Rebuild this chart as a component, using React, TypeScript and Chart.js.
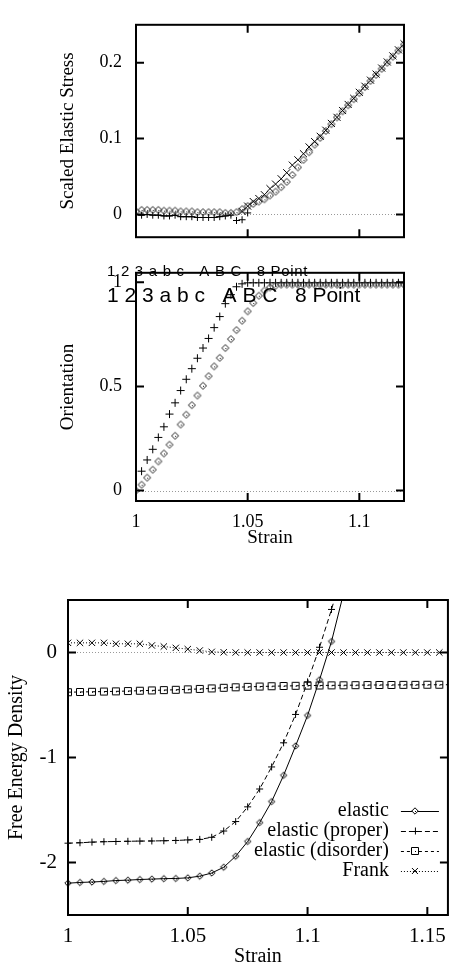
import React, { useEffect, useRef } from "react";
import { Chart, registerables } from "chart.js";
Chart.register(...registerables);

const SERIF = "'Liberation Serif','Times New Roman',serif";
const SANS = "'Liberation Sans',Arial,sans-serif";

// ---------------- data: top + middle panels (strain step 0.0025) ----------------
const strainFine = [
  1.0, 1.0025, 1.005, 1.0075, 1.01, 1.0125, 1.015, 1.0175, 1.02, 1.0225,
  1.025, 1.0275, 1.03, 1.0325, 1.035, 1.0375, 1.04, 1.0425, 1.045, 1.0475,
  1.05, 1.0525, 1.055, 1.0575, 1.06, 1.0625, 1.065, 1.0675, 1.07, 1.0725,
  1.075, 1.0775, 1.08, 1.0825, 1.085, 1.0875, 1.09, 1.0925, 1.095, 1.0975,
  1.1, 1.1025, 1.105, 1.1075, 1.11, 1.1125, 1.115, 1.1175, 1.12,
];

const stressDiamond = [
  0.004, 0.006, 0.006, 0.006, 0.006, 0.005, 0.005, 0.005, 0.004, 0.004,
  0.004, 0.003, 0.003, 0.003, 0.003, 0.003, 0.002, 0.002, 0.003, 0.007,
  0.011, 0.014, 0.017, 0.02, 0.025, 0.03, 0.036, 0.043, 0.052, 0.062,
  0.072, 0.082, 0.092, 0.101, 0.11, 0.119, 0.128, 0.136, 0.144, 0.152,
  0.16, 0.168, 0.176, 0.184, 0.192, 0.2, 0.208, 0.216, 0.224,
];

const stressCross: (number | null)[] = [
  null, null, null, null, null, null, null, null, null, null,
  null, null, null, null, null, null, null, null, null, 0.004,
  0.011, 0.017, 0.021, 0.026, 0.034, 0.04, 0.047, 0.055, 0.065, 0.072,
  0.08, 0.089, 0.096, 0.103, 0.111, 0.12, 0.128, 0.137, 0.145, 0.153,
  0.161, 0.169, 0.177, 0.185, 0.193, 0.201, 0.209, 0.217, 0.225,
];

const stressPlus: (number | null)[] = [
  0.0, -0.001, 0.0, -0.001, -0.001, -0.002, -0.002, -0.001, -0.003, -0.003,
  -0.003, -0.004, -0.004, -0.004, -0.004, -0.003, -0.002, -0.001, -0.008, -0.007,
  0.002,
];

const orientPlus = [
  0.0, 0.093, 0.147, 0.198, 0.255, 0.306, 0.367, 0.421, 0.48, 0.534,
  0.585, 0.635, 0.684, 0.73, 0.782, 0.835, 0.897, 0.94, 0.978, 0.992,
  0.997, 0.997, 0.997, 0.997, 0.997, 0.997, 0.997, 0.997, 0.997, 0.997,
  0.997, 0.997, 0.997, 0.997, 0.997, 0.997, 0.997, 0.997, 0.997, 0.997,
  0.997, 0.997, 0.997, 0.997, 0.997, 0.997, 0.997, 0.997, 0.997,
];

const orientDiamond = [
  0.0, 0.028, 0.062, 0.1, 0.14, 0.178, 0.22, 0.263, 0.317, 0.364,
  0.41, 0.456, 0.503, 0.549, 0.596, 0.637, 0.684, 0.727, 0.77, 0.815,
  0.86, 0.9, 0.935, 0.96, 0.975, 0.983, 0.988, 0.988, 0.988, 0.988,
  0.988, 0.988, 0.988, 0.988, 0.988, 0.988, 0.988, 0.988, 0.988, 0.988,
  0.988, 0.988, 0.988, 0.988, 0.988, 0.988, 0.988, 0.988, 0.988,
];

const fineXTicks = [1, 1.05, 1.1];
const stressYTicks = [0, 0.1, 0.2];
const orientYTicks = [0, 0.5, 1];
const fontTestText = "1 2 3 a b c   A B C   8 Point";

// ---------------- data: bottom panel (strain step 0.005) ----------------
const strainCoarse = [
  1.0, 1.005, 1.01, 1.015, 1.02, 1.025, 1.03, 1.035, 1.04, 1.045,
  1.05, 1.055, 1.06, 1.065, 1.07, 1.075, 1.08, 1.085, 1.09, 1.095,
  1.1, 1.105, 1.11, 1.115, 1.12, 1.125, 1.13, 1.135, 1.14, 1.145,
  1.15, 1.155, 1.16,
];

const energyElastic: (number | null)[] = [
  -2.197, -2.19, -2.186, -2.18, -2.172, -2.168, -2.162, -2.158, -2.154, -2.152,
  -2.146, -2.13, -2.1, -2.045, -1.94, -1.8, -1.62, -1.42, -1.17, -0.89,
  -0.6, -0.26, 0.105, 0.56,
];

const energyProper: (number | null)[] = [
  -1.816, -1.812, -1.806, -1.802, -1.8, -1.798, -1.796, -1.795, -1.793, -1.79,
  -1.785, -1.78, -1.76, -1.7, -1.61, -1.47, -1.3, -1.09, -0.86, -0.59,
  -0.28, 0.05, 0.41, 0.8,
];

const energyDisorder = [
  -0.378, -0.376, -0.374, -0.372, -0.37, -0.367, -0.364, -0.361, -0.358, -0.355,
  -0.351, -0.347, -0.342, -0.336, -0.331, -0.327, -0.324, -0.321, -0.319, -0.317,
  -0.315, -0.314, -0.313, -0.312, -0.311, -0.31, -0.309, -0.309, -0.308, -0.308,
  -0.307, -0.307, -0.307,
];

const energyFrank = [
  0.092, 0.092, 0.092, 0.092, 0.083, 0.083, 0.083, 0.067, 0.057, 0.044,
  0.032, 0.019, 0.006, 0.002, 0.0, 0.0, 0.0, 0.0, 0.0, 0.0,
  0.0, 0.0, 0.0, 0.0, 0.0, 0.0, 0.0, 0.0, 0.0, 0.0,
  0.0, 0.0, 0.0,
];

const energyLegend = ["elastic", "elastic (proper)", "elastic (disorder)", "Frank"];
const coarseXTicks = [1, 1.05, 1.1, 1.15];
const energyYTicks = [-2, -1, 0];

// ---------------- helpers ----------------
type Pt = { x: number; y: number };
const pts = (xs: number[], ys: (number | null)[]): Pt[] =>
  xs
    .map((x, i) => ({ x, y: ys[i] as number }))
    .filter((p) => p.y !== null && p.y !== undefined);

const setTicks = (values: number[]) => (scale: any) => {
  scale.ticks = values.map((v) => ({ value: v }));
};

function makeMarker(kind: "diamond" | "square", r: number, color: string) {
  const s = Math.ceil(2 * r + 3);
  const c = document.createElement("canvas");
  c.width = s;
  c.height = s;
  const g = c.getContext("2d")!;
  const m = s / 2;
  g.strokeStyle = color;
  g.lineWidth = 1;
  g.beginPath();
  if (kind === "diamond") {
    g.moveTo(m, m - r);
    g.lineTo(m + r, m);
    g.lineTo(m, m + r);
    g.lineTo(m - r, m);
    g.closePath();
  } else {
    g.rect(m - r, m - r, 2 * r, 2 * r);
  }
  g.stroke();
  g.fillStyle = color;
  g.fillRect(Math.floor(m), Math.floor(m), 1, 1);
  return c;
}

function framePlugin(xt: number[], yt: number[]) {
  return {
    id: "frame",
    afterDatasetsDraw(chart: any) {
      const { ctx, chartArea: a, scales } = chart;
      const L = 8;
      ctx.save();
      ctx.strokeStyle = "#000";
      ctx.lineWidth = 2;
      ctx.setLineDash([]);
      ctx.strokeRect(a.left, a.top, a.right - a.left, a.bottom - a.top);
      ctx.beginPath();
      xt.forEach((v) => {
        const px = scales.x.getPixelForValue(v);
        ctx.moveTo(px, a.bottom);
        ctx.lineTo(px, a.bottom - L);
        ctx.moveTo(px, a.top);
        ctx.lineTo(px, a.top + L);
      });
      yt.forEach((v) => {
        const py = scales.y.getPixelForValue(v);
        ctx.moveTo(a.left, py);
        ctx.lineTo(a.left + L, py);
        ctx.moveTo(a.right, py);
        ctx.lineTo(a.right - L, py);
      });
      ctx.stroke();
      ctx.restore();
    },
  };
}

const zeroLinePlugin = {
  id: "zeroLine",
  beforeDatasetsDraw(chart: any) {
    const { ctx, chartArea: a, scales } = chart;
    const py = Math.round(scales.y.getPixelForValue(0)) + 0.5;
    ctx.save();
    ctx.strokeStyle = "#999";
    ctx.lineWidth = 1;
    ctx.setLineDash([1, 2]);
    ctx.beginPath();
    ctx.moveTo(a.left, py);
    ctx.lineTo(a.right, py);
    ctx.stroke();
    ctx.restore();
  },
};

const fontTestPlugin = {
  id: "fontTest",
  afterDraw(chart: any) {
    const { ctx, chartArea: a } = chart;
    ctx.save();
    ctx.fillStyle = "#000";
    ctx.textAlign = "left";
    ctx.textBaseline = "middle";
    ctx.font = `15px ${SANS}`;
    (ctx as any).letterSpacing = "0.7px";
    ctx.fillText(fontTestText, a.left - 29, a.top - 1);
    ctx.font = `21px ${SANS}`;
    (ctx as any).letterSpacing = "0px";
    ctx.fillText(fontTestText, a.left - 29, a.top + 23.5);
    ctx.restore();
  },
};

function legendPlugin(items: { label: string; dash: number[]; marker: string; img?: HTMLCanvasElement }[]) {
  return {
    id: "energyLegend",
    afterDraw(chart: any) {
      const { ctx, chartArea: a } = chart;
      ctx.save();
      ctx.font = `20px ${SERIF}`;
      ctx.fillStyle = "#000";
      ctx.textAlign = "right";
      ctx.textBaseline = "middle";
      items.forEach((it, i) => {
        const y = a.bottom - 104 + i * 20;
        ctx.fillText(it.label, a.right - 59, y);
        ctx.strokeStyle = "#000";
        ctx.lineWidth = 1;
        ctx.setLineDash(it.dash);
        ctx.beginPath();
        ctx.moveTo(a.right - 47, y + 0.5);
        ctx.lineTo(a.right - 9, y + 0.5);
        ctx.stroke();
        ctx.setLineDash([]);
        const mx = a.right - 33;
        if (it.img) {
          ctx.clearRect(mx - 3, y - 3, 6, 6);
          ctx.drawImage(it.img, Math.round(mx - it.img.width / 2), Math.round(y - it.img.height / 2));
        } else if (it.marker === "cross") {
          ctx.beginPath();
          ctx.moveTo(mx - 3.5, y + 0.5);
          ctx.lineTo(mx + 3.5, y + 0.5);
          ctx.moveTo(mx + 0.5, y - 3.5);
          ctx.lineTo(mx + 0.5, y + 3.5);
          ctx.stroke();
        } else {
          ctx.beginPath();
          ctx.moveTo(mx - 3, y - 3);
          ctx.lineTo(mx + 3, y + 3);
          ctx.moveTo(mx + 3, y - 3);
          ctx.lineTo(mx - 3, y + 3);
          ctx.stroke();
        }
      });
      ctx.restore();
    },
  };
}

const baseOptions = {
  animation: false,
  responsive: true,
  maintainAspectRatio: false,
  events: [] as string[],
  plugins: { legend: { display: false }, tooltip: { enabled: false } },
};

const hiddenGrid = { display: false, drawTicks: false };
const numLabel = (v: any) => String(v);

function ChartBox({ left, top, width, height, build }: { left: number; top: number; width: number; height: number; build: () => any }) {
  const ref = useRef<HTMLCanvasElement>(null);
  useEffect(() => {
    const chart = new Chart(ref.current!, build());
    return () => chart.destroy();
  }, []);
  return (
    <div style={{ position: "absolute", left, top, width, height }}>
      <canvas ref={ref} />
    </div>
  );
}

function buildTop() {
  const diamond = makeMarker("diamond", 3.5, "#222");
  return {
    type: "scatter",
    data: {
      datasets: [
        { data: pts(strainFine, stressDiamond), showLine: false, pointStyle: diamond, pointRadius: 4 },
        {
          data: pts(strainFine, stressCross), showLine: false, pointStyle: "crossRot", pointRadius: 5,
          pointBorderColor: "#000", pointBorderWidth: 1,
        },
        {
          data: pts(strainFine, stressPlus), showLine: true, borderColor: "#000", borderWidth: 1.2,
          pointStyle: "cross", pointRadius: 3.5, pointBorderColor: "#000", pointBorderWidth: 1,
          segment: { borderColor: (c: any) => (c.p1DataIndex > 17 ? "rgba(0,0,0,0)" : "#000") },
        },
      ],
    },
    options: {
      ...baseOptions,
      layout: { padding: { top: 4, right: 16, bottom: 2, left: 0 } },
      scales: {
        x: { type: "linear", display: false, min: 1, max: 1.12 },
        y: {
          type: "linear", min: -0.03, max: 0.25,
          afterBuildTicks: setTicks(stressYTicks),
          afterFit: (s: any) => { s.width = 136; },
          grid: hiddenGrid, border: { display: false },
          ticks: { padding: 14, color: "#000", font: { family: SERIF, size: 18 }, callback: numLabel },
          title: { display: true, text: "Scaled Elastic Stress", color: "#000", font: { family: SERIF, size: 19 }, padding: { top: 57, bottom: 0 } },
        },
      },
    },
    plugins: [zeroLinePlugin, framePlugin(fineXTicks, stressYTicks)],
  };
}

function buildMiddle() {
  const diamond = makeMarker("diamond", 3.5, "#222");
  return {
    type: "scatter",
    data: {
      datasets: [
        { data: pts(strainFine, orientDiamond), showLine: false, pointStyle: diamond, pointRadius: 4 },
        {
          data: pts(strainFine, orientPlus), showLine: false, pointStyle: "cross", pointRadius: 4,
          pointBorderColor: "#000", pointBorderWidth: 1,
        },
      ],
    },
    options: {
      ...baseOptions,
      layout: { padding: { top: 17, right: 16, bottom: 0, left: 0 } },
      scales: {
        x: {
          type: "linear", min: 1, max: 1.12, position: "bottom",
          afterBuildTicks: setTicks(fineXTicks),
          afterFit: (s: any) => { s.height = 51; },
          grid: hiddenGrid, border: { display: false },
          ticks: { padding: 10, color: "#000", font: { family: SERIF, size: 18 }, callback: numLabel, maxRotation: 0 },
          title: { display: true, text: "Strain", color: "#000", font: { family: SERIF, size: 19 }, padding: { top: 0, bottom: 3 } },
        },
        y: {
          type: "linear", min: -0.05, max: 1.045,
          afterBuildTicks: setTicks(orientYTicks),
          afterFit: (s: any) => { s.width = 136; },
          grid: hiddenGrid, border: { display: false },
          ticks: { padding: 14, color: "#000", font: { family: SERIF, size: 18 }, callback: numLabel },
          title: { display: true, text: "Orientation", color: "#000", font: { family: SERIF, size: 19 }, padding: { top: 57, bottom: 0 } },
        },
      },
    },
    plugins: [zeroLinePlugin, framePlugin(fineXTicks, orientYTicks), fontTestPlugin],
  };
}

function buildBottom() {
  const diamond = makeMarker("diamond", 3.2, "#000");
  const square = makeMarker("square", 3.5, "#000");
  const edgeClip = { left: 6, right: 6, top: 0, bottom: 6 };
  return {
    type: "scatter",
    data: {
      datasets: [
        {
          data: pts(strainCoarse, energyElastic), showLine: true, borderColor: "#000", borderWidth: 1,
          pointStyle: diamond, pointRadius: 4, clip: edgeClip,
        },
        {
          data: pts(strainCoarse, energyProper), showLine: true, borderColor: "#000", borderWidth: 1, borderDash: [5, 3],
          pointStyle: "cross", pointRadius: 3.5, pointBorderColor: "#000", pointBorderWidth: 1, clip: edgeClip,
        },
        {
          data: pts(strainCoarse, energyDisorder), showLine: true, borderColor: "#000", borderWidth: 1, borderDash: [3, 3],
          pointStyle: square, pointRadius: 4,
        },
        {
          data: pts(strainCoarse, energyFrank), showLine: true, borderColor: "#000", borderWidth: 1, borderDash: [1, 2],
          pointStyle: "crossRot", pointRadius: 4.5, pointBorderColor: "#000", pointBorderWidth: 1,
        },
      ],
    },
    options: {
      ...baseOptions,
      layout: { padding: { top: 40, right: 1, bottom: 0, left: 0 } },
      scales: {
        x: {
          type: "linear", min: 1, max: 1.1586, position: "bottom",
          afterBuildTicks: setTicks(coarseXTicks),
          afterFit: (s: any) => { s.height = 54; },
          grid: hiddenGrid, border: { display: false },
          ticks: { padding: 9, color: "#000", font: { family: SERIF, size: 21 }, callback: numLabel, maxRotation: 0 },
          title: { display: true, text: "Strain", color: "#000", font: { family: SERIF, size: 20 }, padding: { top: 0, bottom: 0 } },
        },
        y: {
          type: "linear", min: -2.5, max: 0.5,
          afterBuildTicks: setTicks(energyYTicks),
          afterFit: (s: any) => { s.width = 68; },
          grid: hiddenGrid, border: { display: false },
          ticks: { padding: 11, color: "#000", font: { family: SERIF, size: 21 }, callback: numLabel },
          title: { display: true, text: "Free Energy Density", color: "#000", font: { family: SERIF, size: 20 }, padding: { top: 5, bottom: 0 } },
        },
      },
    },
    plugins: [
      zeroLinePlugin,
      framePlugin(coarseXTicks, energyYTicks),
      legendPlugin([
        { label: energyLegend[0], dash: [], marker: "diamond", img: diamond },
        { label: energyLegend[1], dash: [5, 3], marker: "cross" },
        { label: energyLegend[2], dash: [3, 3], marker: "square", img: square },
        { label: energyLegend[3], dash: [1, 2], marker: "crossRot" },
      ]),
    ],
  };
}

export default function App() {
  return (
    <div style={{ position: "absolute", left: 0, top: 0, width: 455, height: 969, background: "#fff", overflow: "hidden" }}>
      <ChartBox left={0} top={0} width={420} height={262} build={buildTop} />
      <ChartBox left={0} top={248} width={420} height={304} build={buildMiddle} />
      <ChartBox left={0} top={560} width={455} height={409} build={buildBottom} />
    </div>
  );
}
